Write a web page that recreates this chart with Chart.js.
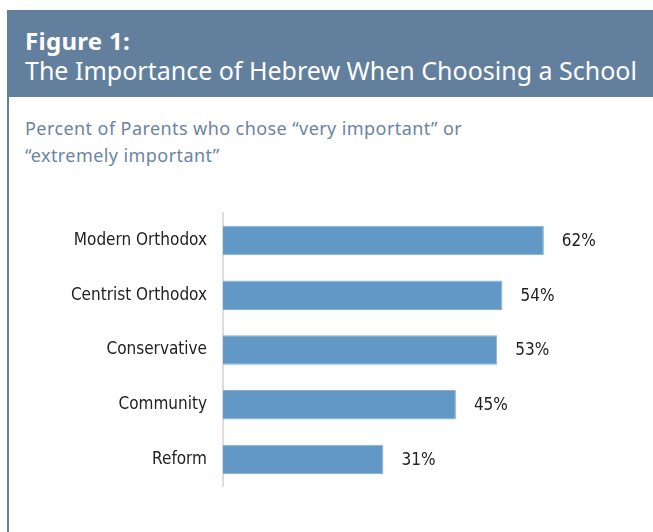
<!DOCTYPE html>
<html>
<head>
<meta charset="utf-8">
<script src="https://cdn.jsdelivr.net/npm/chart.js@4"></script>
<style>
  html, body { margin: 0; padding: 0; background: #fff; }
  body { width: 653px; height: 532px; position: relative; overflow: hidden; font-family: 'Noto Sans', sans-serif; }
  .header { position: absolute; left: 7px; top: 10px; width: 646px; height: 87px; background: #62809e; color: #fff; }
  .header .fig { position: absolute; left: 18px; top: 16px; font-size: 24px; font-weight: bold; line-height: 30px; letter-spacing: 0.3px; }
  .header .title { position: absolute; left: 18px; top: 44px; font-size: 25px; line-height: 32px; white-space: nowrap; }
  .side { position: absolute; left: 7px; top: 97px; width: 2px; height: 435px; background: #62809e; }
  .sub { position: absolute; left: 25px; top: 115px; font-size: 18px; line-height: 27px; color: #6b84a0; letter-spacing: 0.42px; }
  #chart-wrap { position: absolute; left: 0; top: 187px; width: 653px; height: 326px; }
</style>
</head>
<body>
<div class="header">
  <div class="fig">Figure 1:</div>
  <div class="title">The Importance of Hebrew When Choosing a School</div>
</div>
<div class="side"></div>
<div class="sub">Percent of Parents who chose “very important” or<br>“extremely important”</div>
<div id="chart-wrap"><canvas id="chart"></canvas></div>
<script>
const CATEGORIES = ['Modern Orthodox', 'Centrist Orthodox', 'Conservative', 'Community', 'Reform'];
const PERCENTS = [62, 54, 53, 45, 31];

const LABEL_FONT = "'DejaVu Sans Condensed', sans-serif";

// writes "NN%" just past the end of each bar
const valueLabels = {
  id: 'valueLabels',
  afterDatasetsDraw(chart) {
    const ctx = chart.ctx;
    const meta = chart.getDatasetMeta(0);
    ctx.save();
    ctx.font = `17px ${LABEL_FONT}`;
    ctx.fillStyle = '#222';
    ctx.textBaseline = 'middle';
    meta.data.forEach((bar, i) => {
      ctx.fillText(`${chart.data.datasets[0].data[i]}%`, bar.x + 18, bar.y + 1);
    });
    ctx.restore();
  }
};

const CHART = new Chart(document.getElementById('chart'), {
  type: 'bar',
  data: {
    labels: CATEGORIES,
    datasets: [{
      data: PERCENTS,
      backgroundColor: '#6198c6',
      borderColor: '#86b0d4',
      borderWidth: 1,
      borderSkipped: 'left',
      categoryPercentage: 1,
      barPercentage: 0.54,
    }],
  },
  options: {
    indexAxis: 'y',
    maintainAspectRatio: false,
    responsive: true,
    animation: false,
    layout: {
      padding: { top: 0, bottom: 0, right: 16, left: 0 },
    },
    scales: {
      x: {
        display: false,
        min: 0,
        max: 80,
      },
      y: {
        grid: { display: false, drawTicks: false },
        border: { display: true, color: '#dddddd', width: 2 },
        ticks: {
          padding: 16,
          color: '#222',
          font: { family: LABEL_FONT, size: 17 },
        },
        afterFit: axis => { axis.width = 223; },
      },
    },
    plugins: {
      legend: { display: false },
      tooltip: { enabled: false },
    },
  },
  plugins: [valueLabels],
});
</script>
</body>
</html>
